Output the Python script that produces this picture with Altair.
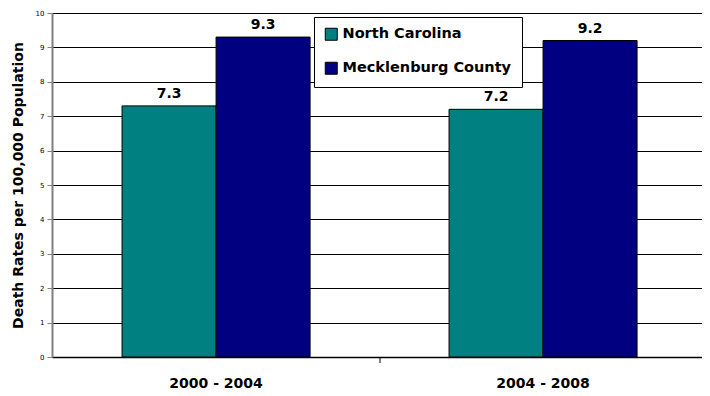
import altair as alt
import pandas as pd

periods = ["2000 - 2004", "2004 - 2008"]
series = ["North Carolina", "Mecklenburg County"]
north_carolina = [7.3, 7.2]
mecklenburg = [9.3, 9.2]
colors = ["#008080", "#000080"]
y_ticks = list(range(0, 11))

rows = []
for i, p in enumerate(periods):
    rows.append({"period": p, "series": series[0], "value": north_carolina[i]})
    rows.append({"period": p, "series": series[1], "value": mecklenburg[i]})
df = pd.DataFrame(rows)

base = alt.Chart(df).encode(
    x=alt.X("period:N", sort=periods, title=None,
            scale=alt.Scale(paddingInner=0.425, paddingOuter=0.2064, align=0.519),
            axis=alt.Axis(labelAngle=0, tickSize=0, labelPadding=19,
                          labelFont="DejaVu Sans", labelFontWeight="bold",
                          labelFontSize=14, labelColor="#000",
                          domainColor="#000", domainWidth=1.5)),
    xOffset=alt.XOffset("series:N", sort=series, scale=alt.Scale(paddingInner=0, paddingOuter=0)),
    y=alt.Y("value:Q", scale=alt.Scale(domain=[0, 10], nice=False),
            title="Death Rates per 100,000 Population",
            axis=alt.Axis(values=y_ticks, tickSize=5, tickColor="#808080",
                          labelFont="DejaVu Sans", labelFontSize=7, labelColor="#000",
                          labelPadding=3, labelOverlap=False,
                          titleFont="DejaVu Sans", titleFontWeight="bold",
                          titleFontSize=14, titleColor="#000", titlePadding=10,
                          domainColor="#808080", domainWidth=2,
                          grid=True, gridColor="#000", gridWidth=1)),
)

bars = base.mark_bar(stroke="#000", strokeWidth=1).encode(
    color=alt.Color("series:N", sort=series,
                    scale=alt.Scale(domain=series, range=colors),
                    legend=alt.Legend(title=None, orient="none", legendX=262, legendY=4,
                                      symbolType="square", symbolSize=144,
                                      symbolStrokeColor="#000", symbolStrokeWidth=1,
                                      labelFont="DejaVu Sans", labelFontWeight="bold",
                                      labelFontSize=14.5, labelColor="#000", labelLimit=0,
                                      labelOffset=4, rowPadding=17, padding=10,
                                      strokeColor="#000", fillColor="#fff",
                                      symbolOpacity=1)),
)

labels = base.mark_text(baseline="bottom", dy=-5, font="DejaVu Sans",
                        fontWeight="bold", fontSize=14, color="#000").encode(
    text=alt.Text("value:Q", format=".1f"),
)

tick = alt.Chart(alt.Data(values=[{}])).mark_rule(color="#000", strokeWidth=1).encode(
    x=alt.value(328), y=alt.value(344), y2=alt.value(350)
)

chart = alt.layer(bars, labels, tick).properties(
    width=650, height=344,
    padding={"left": 3, "top": 1, "right": 0, "bottom": 0},
).configure_view(strokeWidth=0)

chart.save("out.html", embed_options={"renderer": "svg", "actions": False})
